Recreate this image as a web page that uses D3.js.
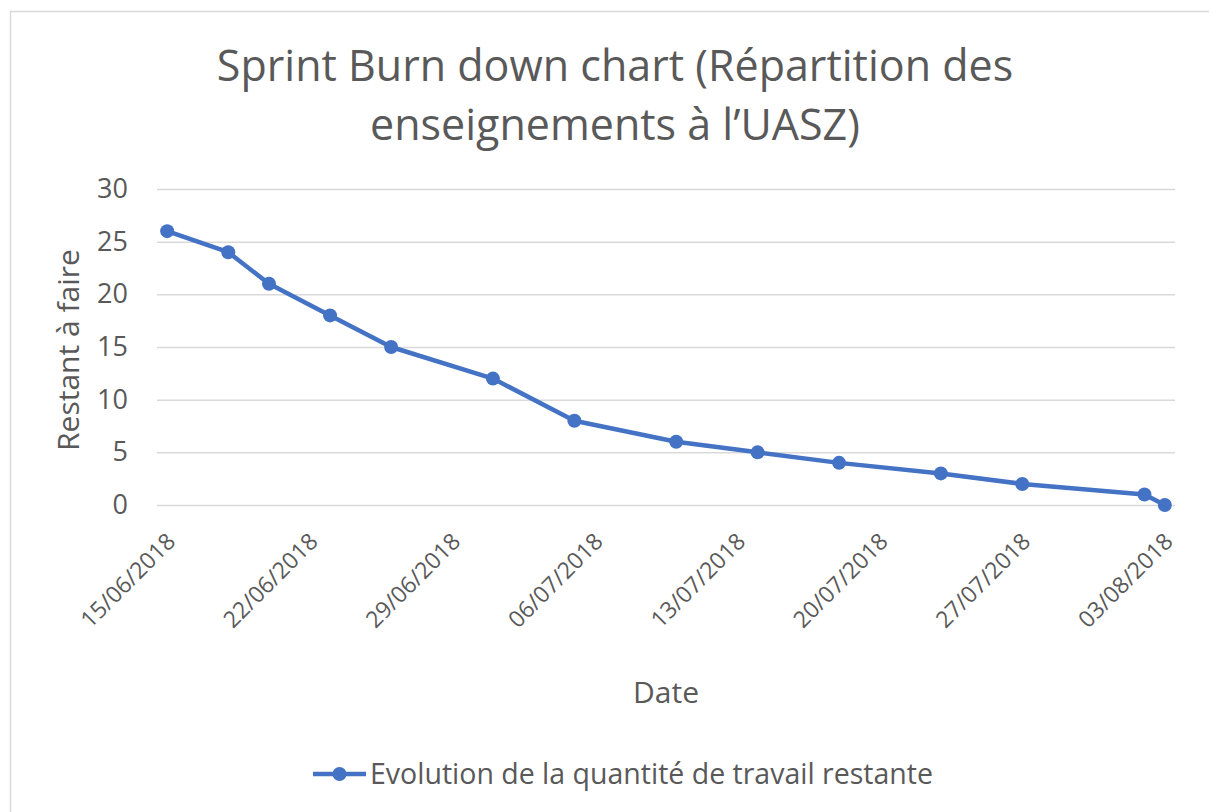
<html>
  <head>
    <meta charset="utf-8" />
    <script src="https://cdn.jsdelivr.net/npm/d3@7"></script>
    <style>
      body { margin: 0; background: #fff; }
      text { font-family: "Open Sans", sans-serif; fill: #595959; }
    </style>
  </head>
  <body>
    <div id="container"></div>
    <script>
      // donnees du burndown
      const dates = ["15/06/2018", "18/06/2018", "20/06/2018", "23/06/2018", "26/06/2018",
        "01/07/2018", "05/07/2018", "10/07/2018", "14/07/2018", "18/07/2018",
        "23/07/2018", "27/07/2018", "02/08/2018", "03/08/2018"];
      const restant = [26, 24, 21, 18, 15, 12, 8, 6, 5, 4, 3, 2, 1, 0];
      const xTicks = ["15/06/2018", "22/06/2018", "29/06/2018", "06/07/2018",
        "13/07/2018", "20/07/2018", "27/07/2018", "03/08/2018"];
      const yTicks = [0, 5, 10, 15, 20, 25, 30];
      const seriesName = "Evolution de la quantité de travail restante";

      const W = 1209, H = 812;
      const font = "'Open Sans', sans-serif";
      const parse = d3.utcParse("%d/%m/%Y");
      const fmt = d3.utcFormat("%d/%m/%Y");
      const halfDay = 12 * 3600 * 1000;

      const svg = d3.select("#container").append("svg")
        .attr("width", W).attr("height", H);

      // cadre du graphique
      svg.append("rect")
        .attr("x", 10.5).attr("y", 11.5)
        .attr("width", W + 10).attr("height", H + 10)
        .attr("fill", "none").attr("stroke", "#d9d9d9").attr("stroke-width", 1.5);

      const first = parse(dates[0]), last = parse(dates[dates.length - 1]);
      const x = d3.scaleUtc()
        .domain([new Date(+first - halfDay), new Date(+last + halfDay)])
        .range([157, 1175]);
      const y = d3.scaleLinear().domain([0, 30]).range([505, 189]);

      // titre
      const title = svg.append("text")
        .attr("text-anchor", "middle")
        .attr("font-size", 43);
      title.append("tspan").attr("x", 615).attr("y", 81)
        .text("Sprint Burn down chart (Répartition des");
      title.append("tspan").attr("x", 615).attr("y", 140)
        .text("enseignements à l’UASZ)");

      // grille + axe y
      const yAxis = d3.axisLeft(y).tickValues(yTicks).tickSize(-(1175 - 157)).tickPadding(29);
      const gy = svg.append("g").attr("transform", "translate(157,0)").call(yAxis);
      gy.select(".domain").remove();
      gy.selectAll(".tick line").attr("stroke", "#d9d9d9").attr("stroke-width", 1.5);
      gy.selectAll(".tick text").attr("font-size", 27).attr("font-family", font)
        .attr("fill", "#595959");

      // axe x
      const xAxis = d3.axisBottom(x)
        .tickValues(xTicks.map(parse))
        .tickFormat(fmt)
        .tickSize(0);
      const gx = svg.append("g").attr("transform", "translate(0,505)").call(xAxis);
      gx.select(".domain").remove();
      gx.selectAll(".tick text")
        .attr("font-size", 23).attr("font-family", font).attr("fill", "#595959")
        .attr("text-anchor", "end")
        .attr("dy", 0).attr("y", 0)
        .attr("transform", "translate(9,38) rotate(-45)");

      // titres des axes
      svg.append("text")
        .attr("text-anchor", "middle").attr("font-size", 30)
        .attr("transform", "translate(79,350) rotate(-90)")
        .text("Restant à faire");
      svg.append("text")
        .attr("text-anchor", "middle").attr("font-size", 30)
        .attr("x", 666).attr("y", 703)
        .text("Date");

      // serie
      const pts = dates.map((d, i) => ({ d: parse(d), v: restant[i] }));
      const line = d3.line().x(p => x(p.d)).y(p => y(p.v));
      svg.append("path").datum(pts)
        .attr("d", line)
        .attr("fill", "none").attr("stroke", "#4472C4")
        .attr("stroke-width", 4.5).attr("stroke-linejoin", "round");
      svg.append("g").selectAll("circle").data(pts).join("circle")
        .attr("cx", p => x(p.d)).attr("cy", p => y(p.v))
        .attr("r", 7).attr("fill", "#4472C4");

      // legende
      const lg = svg.append("g");
      lg.append("line").attr("x1", 313).attr("x2", 366).attr("y1", 774).attr("y2", 774)
        .attr("stroke", "#4472C4").attr("stroke-width", 4.5);
      lg.append("circle").attr("cx", 339.5).attr("cy", 774).attr("r", 7).attr("fill", "#4472C4");
      lg.append("text").attr("x", 370).attr("y", 784).attr("font-size", 28.5).text(seriesName);
    </script>
  </body>
</html>
